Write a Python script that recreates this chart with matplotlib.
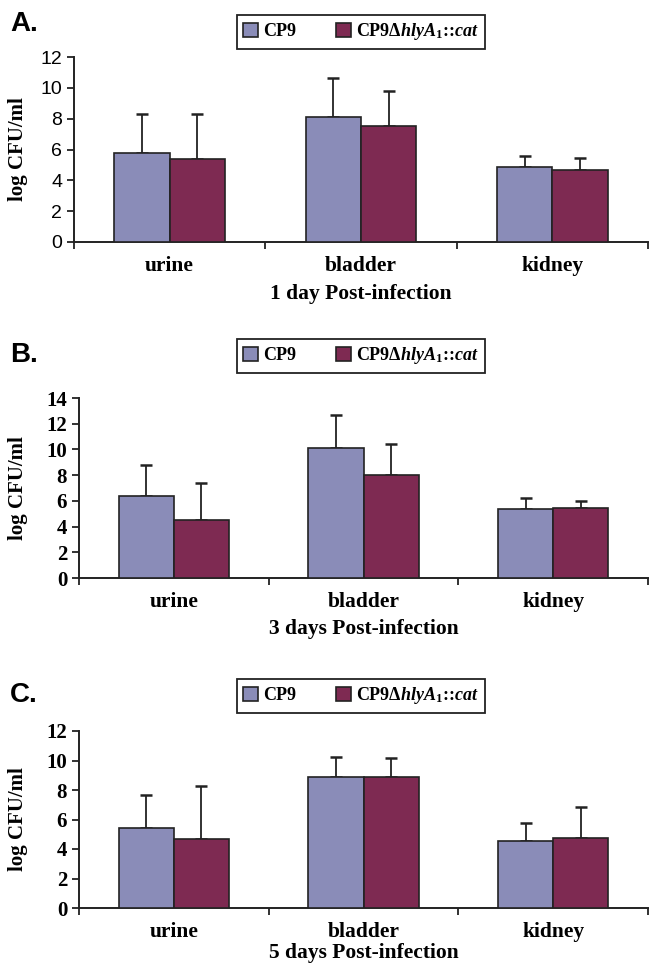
import matplotlib
matplotlib.use("Agg")
import matplotlib.pyplot as plt
import numpy as np

plt.rcParams["mathtext.fontset"] = "custom"
plt.rcParams["mathtext.rm"] = "Liberation Serif:bold"
plt.rcParams["mathtext.it"] = "Liberation Serif:italic:bold"
plt.rcParams["mathtext.bf"] = "Liberation Serif:bold"

categories = ["urine", "bladder", "kidney"]
strains = ["CP9", "CP9\u0394$\\mathit{hlyA}_{1}$::$\\mathit{cat}$"]

# means and upper SD, per panel
a_cp9 = [5.8, 8.1, 4.85]
a_cp9_sd = [2.5, 2.55, 0.7]
a_mut = [5.4, 7.5, 4.65]
a_mut_sd = [2.9, 2.3, 0.8]

b_cp9 = [6.35, 10.15, 5.4]
b_cp9_sd = [2.45, 2.55, 0.8]
b_mut = [4.5, 8.05, 5.45]
b_mut_sd = [2.9, 2.4, 0.55]

c_cp9 = [5.45, 8.85, 4.55]
c_cp9_sd = [2.2, 1.4, 1.2]
c_mut = [4.65, 8.85, 4.75]
c_mut_sd = [3.65, 1.35, 2.1]

panels = [
    ("A.", "1 day Post-infection", 12, a_cp9, a_cp9_sd, a_mut, a_mut_sd),
    ("B.", "3 days Post-infection", 14, b_cp9, b_cp9_sd, b_mut, b_mut_sd),
    ("C.", "5 days Post-infection", 12, c_cp9, c_cp9_sd, c_mut, c_mut_sd),
]

blue = "#8a8cb8"
maroon = "#7e2a52"

W, H = 650, 968
fig = plt.figure(figsize=(6.5, 9.68), dpi=100)

# pixel boxes: left, top, bottom of each axes; legend centre y; letter y; xlabel pad
boxes = [(74, 57, 242, 32, 24, 6), (79, 398, 578, 356, 355, 5), (79, 731, 908, 696, 695, 1)]
serif = "Liberation Serif"
sans = "Liberation Sans"

for (letter, xlab, ymax, cp9, cp9_sd, mut, mut_sd), (l, t, b, ly, lt, lp) in zip(panels, boxes):
    ax = fig.add_axes([l / W, 1 - b / H, (648 - l) / W, (b - t) / H])
    x = np.arange(len(categories))
    w = 0.29
    b1 = ax.bar(x - w / 2, cp9, w, color=blue, edgecolor="#222222", linewidth=1.2, label=strains[0], zorder=3)
    b2 = ax.bar(x + w / 2, mut, w, color=maroon, edgecolor="#222222", linewidth=1.2, label=strains[1], zorder=3)
    ax.errorbar(x - w / 2, cp9, yerr=[np.zeros(3), cp9_sd], fmt="none", ecolor="#222222",
                elinewidth=1.3, capsize=4.5, capthick=1.8, zorder=2)
    ax.errorbar(x + w / 2, mut, yerr=[np.zeros(3), mut_sd], fmt="none", ecolor="#222222",
                elinewidth=1.3, capsize=4.5, capthick=1.8, zorder=2)

    ax.set_xlim(-0.5, 2.5)
    ax.set_ylim(0, ymax)
    ax.set_yticks(np.arange(0, ymax + 1, 2))
    for s in ["top", "right"]:
        ax.spines[s].set_visible(False)
    for s in ["left", "bottom"]:
        ax.spines[s].set_linewidth(1.4)
        ax.spines[s].set_color("#222222")

    # boundary ticks as major, category names as minor
    ax.set_xticks([-0.5, 0.5, 1.5, 2.5])
    ax.set_xticklabels([])
    ax.set_xticks(x, minor=True)
    ax.set_xticklabels(categories, minor=True, fontfamily=serif, fontweight="bold", fontsize=15.5)
    ax.tick_params(axis="x", which="major", direction="out", length=5, width=1.3, color="#222222")
    ax.tick_params(axis="x", which="minor", length=0, pad=10)
    ax.tick_params(axis="y", direction="out", length=5, width=1.3, color="#222222", pad=3.5)
    if letter == "A.":
        for lab in ax.get_yticklabels():
            lab.set_fontfamily(sans)
            lab.set_fontsize(14)
    else:
        for lab in ax.get_yticklabels():
            lab.set_fontfamily(serif)
            lab.set_fontweight("bold")
            lab.set_fontsize(15)

    ax.set_xlabel(xlab, fontfamily=serif, fontweight="bold", fontsize=15.5, labelpad=lp)
    ax.set_ylabel("log CFU/ml", fontfamily=serif, fontweight="bold", fontsize=15)
    ax.yaxis.set_label_coords((28 - l) / (648 - l), 0.5)

    leg = ax.legend(handles=[b1, b2], ncol=2, loc="center",
                    bbox_to_anchor=(237 / W, 1 - (ly + 17) / H, 248 / W, 34 / H),
                    bbox_transform=fig.transFigure, mode="expand", borderaxespad=0,
                    prop={"family": serif, "weight": "bold", "size": 13},
                    handlelength=0.8, handleheight=0.8, handletextpad=0.3,
                    columnspacing=1.0, borderpad=0.35, fancybox=False,
                    edgecolor="#222222", framealpha=1)
    leg.get_frame().set_linewidth(1.3)

    fig.text(10 / W, 1 - lt / H, letter, fontfamily=sans, fontweight="bold", fontsize=20,
             ha="left", va="center")

fig.savefig("out.png", dpi=100, facecolor="white")
